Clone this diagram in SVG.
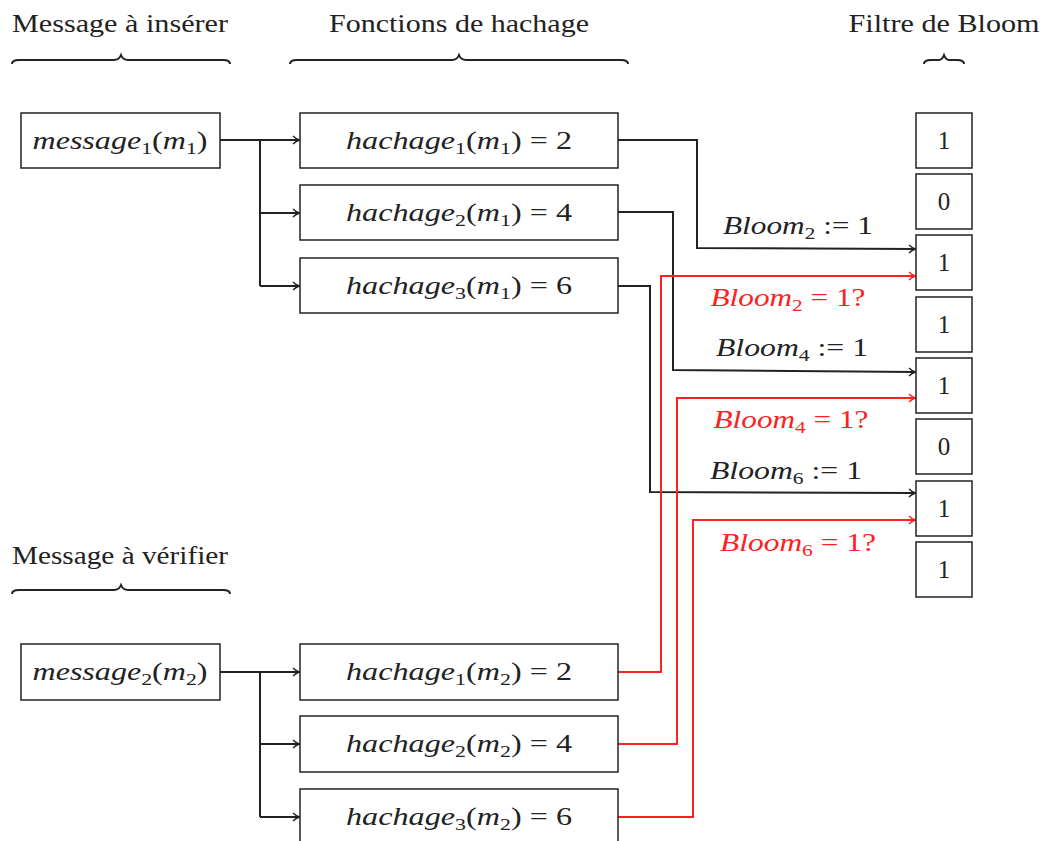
<svg xmlns="http://www.w3.org/2000/svg" width="1044" height="841" viewBox="0 0 1044 841">
<style>
.t{font-family:"Liberation Serif",serif;font-size:25px;fill:#222}
.m{font-family:"Liberation Serif",serif;font-size:25px;fill:#222}
.i{font-style:italic}
.s{font-size:17px}
.red{fill:#ff2020}
.box{fill:#fff;stroke:#222;stroke-width:1.5}
.br{fill:none;stroke:#222;stroke-width:2}
.c{fill:none;stroke:#222;stroke-width:2}
.cr{fill:none;stroke:#ff2020;stroke-width:2}
</style>
<defs>
<marker id="a" markerWidth="10" markerHeight="10" refX="8" refY="5" orient="auto" markerUnits="userSpaceOnUse"><path d="M2,1 Q5,4 8.5,5 Q5,6 2,9" fill="none" stroke="#222" stroke-width="1.4"/></marker>
<marker id="ar" markerWidth="10" markerHeight="10" refX="8" refY="5" orient="auto" markerUnits="userSpaceOnUse"><path d="M2,1 Q5,4 8.5,5 Q5,6 2,9" fill="none" stroke="#ff2020" stroke-width="1.4"/></marker>
</defs>
<g id="headers">
<text class="t" x="120" y="32" text-anchor="middle" textLength="216" lengthAdjust="spacingAndGlyphs">Message à insérer</text>
<path class="br" d="M12,64 Q12,60 19,60 L114,60 Q119,60 121,55 Q123,60 128,60 L223,60 Q230,60 230,64"/>
<text class="t" x="459" y="32" text-anchor="middle" textLength="260" lengthAdjust="spacingAndGlyphs">Fonctions de hachage</text>
<path class="br" d="M290,64 Q290,60 297,60 L452,60 Q457,60 459,55 Q461,60 466,60 L621,60 Q628,60 628,64"/>
<text class="t" x="944" y="32" text-anchor="middle" textLength="191" lengthAdjust="spacingAndGlyphs">Filtre de Bloom</text>
<path class="br" d="M924,64 Q924,60 931,60 L939,60 Q942,60 944,55 Q946,60 949,60 L957,60 Q964,60 964,64"/>
<text class="t" x="120" y="564" text-anchor="middle" textLength="216" lengthAdjust="spacingAndGlyphs">Message à vérifier</text>
<path class="br" d="M12,594 Q12,590 19,590 L114,590 Q119,590 121,585 Q123,590 128,590 L223,590 Q230,590 230,594"/>
</g>
<g id="connectors">
<path class="c" d="M220,140 H260 V286"/>
<path class="c" d="M260,140 H299" marker-end="url(#a)"/>
<path class="c" d="M260,213 H299" marker-end="url(#a)"/>
<path class="c" d="M260,286 H299" marker-end="url(#a)"/>
<path class="c" d="M220,672 H260 V817"/>
<path class="c" d="M260,672 H299" marker-end="url(#a)"/>
<path class="c" d="M260,744 H299" marker-end="url(#a)"/>
<path class="c" d="M260,817 H299" marker-end="url(#a)"/>
<path class="c" d="M618,140 H697 V248 L915,249" marker-end="url(#a)"/>
<path class="c" d="M618,212 H673 V370 L915,372" marker-end="url(#a)"/>
<path class="c" d="M618,286 H650 V492 L915,493" marker-end="url(#a)"/>
<path class="cr" d="M618,672 H661 V276 H915" marker-end="url(#ar)"/>
<path class="cr" d="M618,744 H677 V398 H915" marker-end="url(#ar)"/>
<path class="cr" d="M618,817 H693 V520 H915" marker-end="url(#ar)"/>
<text class="m" x="798" y="234" text-anchor="middle" textLength="150" lengthAdjust="spacingAndGlyphs"><tspan class="i">Bloom</tspan><tspan class="s" dy="5">2</tspan><tspan dy="-5"> := 1</tspan></text>
<text class="m red" x="788" y="306" text-anchor="middle" textLength="155" lengthAdjust="spacingAndGlyphs"><tspan class="i">Bloom</tspan><tspan class="s" dy="5">2</tspan><tspan dy="-5"> = 1?</tspan></text>
<text class="m" x="792" y="356" text-anchor="middle" textLength="152" lengthAdjust="spacingAndGlyphs"><tspan class="i">Bloom</tspan><tspan class="s" dy="5">4</tspan><tspan dy="-5"> := 1</tspan></text>
<text class="m red" x="791" y="428" text-anchor="middle" textLength="155" lengthAdjust="spacingAndGlyphs"><tspan class="i">Bloom</tspan><tspan class="s" dy="5">4</tspan><tspan dy="-5"> = 1?</tspan></text>
<text class="m" x="786" y="479" text-anchor="middle" textLength="152" lengthAdjust="spacingAndGlyphs"><tspan class="i">Bloom</tspan><tspan class="s" dy="5">6</tspan><tspan dy="-5"> := 1</tspan></text>
<text class="m red" x="798" y="551" text-anchor="middle" textLength="156" lengthAdjust="spacingAndGlyphs"><tspan class="i">Bloom</tspan><tspan class="s" dy="5">6</tspan><tspan dy="-5"> = 1?</tspan></text>
</g>
<g id="msg1"><rect class="box" x="21" y="113" width="199" height="55"/>
<text class="m" x="120" y="149" text-anchor="middle" textLength="175" lengthAdjust="spacingAndGlyphs"><tspan class="i">message</tspan><tspan class="s" dy="5">1</tspan><tspan dy="-5">(</tspan><tspan class="i">m</tspan><tspan class="s" dy="5">1</tspan><tspan dy="-5">)</tspan></text></g>
<g id="h1m1"><rect class="box" x="300" y="113" width="318" height="55"/>
<text class="m" x="459" y="149" text-anchor="middle" textLength="226" lengthAdjust="spacingAndGlyphs"><tspan class="i">hachage</tspan><tspan class="s" dy="5">1</tspan><tspan dy="-5">(</tspan><tspan class="i">m</tspan><tspan class="s" dy="5">1</tspan><tspan dy="-5">) = 2</tspan></text></g>
<g id="h2m1"><rect class="box" x="300" y="185" width="318" height="55"/>
<text class="m" x="459" y="221" text-anchor="middle" textLength="226" lengthAdjust="spacingAndGlyphs"><tspan class="i">hachage</tspan><tspan class="s" dy="5">2</tspan><tspan dy="-5">(</tspan><tspan class="i">m</tspan><tspan class="s" dy="5">1</tspan><tspan dy="-5">) = 4</tspan></text></g>
<g id="h3m1"><rect class="box" x="300" y="258" width="318" height="55"/>
<text class="m" x="459" y="294" text-anchor="middle" textLength="226" lengthAdjust="spacingAndGlyphs"><tspan class="i">hachage</tspan><tspan class="s" dy="5">3</tspan><tspan dy="-5">(</tspan><tspan class="i">m</tspan><tspan class="s" dy="5">1</tspan><tspan dy="-5">) = 6</tspan></text></g>
<g id="msg2"><rect class="box" x="21" y="644" width="199" height="56"/>
<text class="m" x="120" y="680" text-anchor="middle" textLength="175" lengthAdjust="spacingAndGlyphs"><tspan class="i">message</tspan><tspan class="s" dy="5">2</tspan><tspan dy="-5">(</tspan><tspan class="i">m</tspan><tspan class="s" dy="5">2</tspan><tspan dy="-5">)</tspan></text></g>
<g id="h1m2"><rect class="box" x="300" y="644" width="318" height="56"/>
<text class="m" x="459" y="680" text-anchor="middle" textLength="226" lengthAdjust="spacingAndGlyphs"><tspan class="i">hachage</tspan><tspan class="s" dy="5">1</tspan><tspan dy="-5">(</tspan><tspan class="i">m</tspan><tspan class="s" dy="5">2</tspan><tspan dy="-5">) = 2</tspan></text></g>
<g id="h2m2"><rect class="box" x="300" y="716" width="318" height="56"/>
<text class="m" x="459" y="752" text-anchor="middle" textLength="226" lengthAdjust="spacingAndGlyphs"><tspan class="i">hachage</tspan><tspan class="s" dy="5">2</tspan><tspan dy="-5">(</tspan><tspan class="i">m</tspan><tspan class="s" dy="5">2</tspan><tspan dy="-5">) = 4</tspan></text></g>
<g id="h3m2"><rect class="box" x="300" y="789" width="318" height="56"/>
<text class="m" x="459" y="825" text-anchor="middle" textLength="226" lengthAdjust="spacingAndGlyphs"><tspan class="i">hachage</tspan><tspan class="s" dy="5">3</tspan><tspan dy="-5">(</tspan><tspan class="i">m</tspan><tspan class="s" dy="5">2</tspan><tspan dy="-5">) = 6</tspan></text></g>
<g id="bloom">
<g id="b0"><rect class="box" x="916" y="113" width="56" height="55"/><text class="m" x="944" y="149" text-anchor="middle">1</text></g>
<g id="b1"><rect class="box" x="916" y="174" width="56" height="55"/><text class="m" x="944" y="210" text-anchor="middle">0</text></g>
<g id="b2"><rect class="box" x="916" y="235" width="56" height="55"/><text class="m" x="944" y="271" text-anchor="middle">1</text></g>
<g id="b3"><rect class="box" x="916" y="297" width="56" height="55"/><text class="m" x="944" y="333" text-anchor="middle">1</text></g>
<g id="b4"><rect class="box" x="916" y="358" width="56" height="55"/><text class="m" x="944" y="394" text-anchor="middle">1</text></g>
<g id="b5"><rect class="box" x="916" y="419" width="56" height="55"/><text class="m" x="944" y="455" text-anchor="middle">0</text></g>
<g id="b6"><rect class="box" x="916" y="481" width="56" height="55"/><text class="m" x="944" y="517" text-anchor="middle">1</text></g>
<g id="b7"><rect class="box" x="916" y="542" width="56" height="55"/><text class="m" x="944" y="578" text-anchor="middle">1</text></g>
</g>
</svg>
